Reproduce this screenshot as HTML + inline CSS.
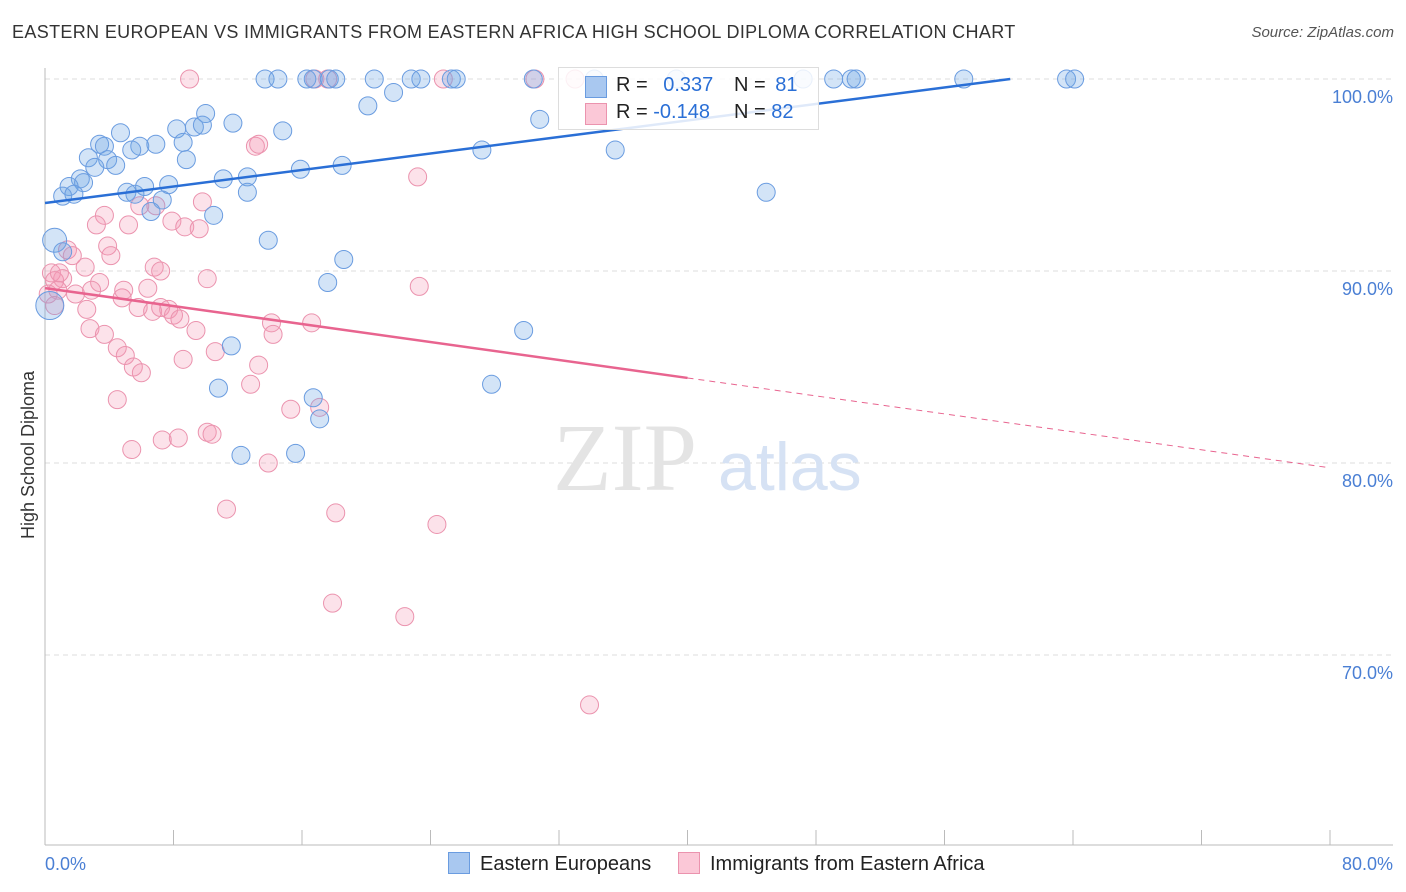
<!DOCTYPE html>
<html><head><meta charset="utf-8"><style>
body{margin:0;background:#fff;font-family:"Liberation Sans",sans-serif}
#c{position:relative;width:1406px;height:892px;overflow:hidden}
.t{position:absolute;white-space:nowrap}
</style></head><body><div id="c">
<div class="t" style="left:12px;top:22px;font-size:18px;color:#333;letter-spacing:0.35px">EASTERN EUROPEAN VS IMMIGRANTS FROM EASTERN AFRICA HIGH SCHOOL DIPLOMA CORRELATION CHART</div>
<div class="t" style="right:12px;top:24px;font-size:15px;color:#555;font-style:italic">Source: ZipAtlas.com</div>
<svg id="s" width="1406" height="892" style="position:absolute;left:0;top:0"></svg>
</div>
<script>
const blueX=[13.7,14.5,16.3,16.7,17.7,18.1,20.5,22.8,23.4,25.3,25.6,30.4,34.2,39.3,47.2,49.1,50.2,50.5,57.2,63.6,64.1,20.1,21.7,10.0,11.7,8.2,9.3,9.8,4.7,3.4,3.7,5.9,6.9,8.6,5.4,2.7,3.9,4.4,3.1,8.8,14.8,30.8,27.2,35.5,18.5,15.9,11.1,12.6,2.2,2.4,1.5,5.1,5.6,6.2,7.7,12.6,1.1,1.8,7.3,6.6,10.5,44.9,0.6,1.1,13.9,18.6,17.6,29.8,11.6,10.8,27.8,16.7,17.1,12.2,15.6,0.3];
const blueY=[100,100,100,100,100,100,100,100,100,100,100,100,100,100,100,100,100,100,100,100,100,98.6,99.3,98.2,97.7,97.4,97.5,97.6,97.2,96.6,96.5,96.5,96.6,96.7,96.3,95.9,95.8,95.5,95.4,95.8,97.3,97.9,96.3,96.3,95.5,95.3,94.8,94.9,94.8,94.6,94.4,94.1,94.0,94.4,94.5,94.1,93.9,94.0,93.7,93.1,92.9,94.1,91.6,91.0,91.6,90.6,89.4,86.9,86.1,83.9,84.1,83.4,82.3,80.4,80.5,88.2];
const blueR=[9,9,9,9,9,9,9,9,9,9,9,9,9,9,9,9,9,9,9,9,9,9,9,9,9,9,9,9,9,9,9,9,9,9,9,9,9,9,9,9,9,9,9,9,9,9,9,9,9,9,9,9,9,9,9,9,9,9,9,9,9,9,12,9,9,9,9,9,9,9,9,9,9,9,9,14];
const pinkX=[9.0,16.8,17.6,24.8,30.5,33.0,13.1,13.3,23.2,3.7,9.8,6.9,5.9,5.2,3.2,7.9,8.7,9.6,3.9,1.4,1.7,4.1,2.5,6.8,7.2,10.1,3.4,1.1,0.4,0.6,0.8,1.9,2.9,4.9,6.4,23.3,2.6,4.8,5.8,6.7,7.2,7.7,8.0,8.4,14.1,16.6,9.4,2.8,3.7,4.5,5.0,5.5,6.0,8.6,10.6,13.3,14.2,12.8,4.5,15.3,17.1,5.4,7.3,8.3,10.1,10.4,13.9,11.3,18.1,24.4,17.9,22.4,33.9,0.2,0.9,0.6];
const pinkY=[100,100,100,100,100,100,96.5,96.6,94.9,92.9,93.6,93.4,93.4,92.4,92.4,92.6,92.3,92.2,91.3,91.1,90.8,90.8,90.2,90.2,90.0,89.6,89.4,89.6,89.9,89.5,89.0,88.8,89.0,89.0,89.1,89.2,88.0,88.6,88.1,87.9,88.1,88.0,87.7,87.5,87.3,87.3,86.9,87.0,86.7,86.0,85.6,85.0,84.7,85.4,85.8,85.1,86.7,84.1,83.3,82.8,82.9,80.7,81.2,81.3,81.6,81.5,80.0,77.6,77.4,76.8,72.7,72.0,67.4,88.8,89.9,88.2];
const yTicks=[100,90,80,70];
const xTickLabels=["0.0%","80.0%"];
const blueTrend=[93.54,0.1075], pinkTrend=[89.11,-0.117];
const X=v=>45+v*1285/80, Y=v=>79+(100-v)*19.2;
const s=document.getElementById('s');const NS='http://www.w3.org/2000/svg';
function mk(t,a,p){const e=document.createElementNS(NS,t);for(const k in a)e.setAttribute(k,a[k]);(p||s).appendChild(e);return e;}
yTicks.forEach(v=>{
 const g=mk('line',{x1:45,x2:1393,y1:Y(v),y2:Y(v),stroke:'#ddd','stroke-dasharray':'5,4'});
 
 
 const t=mk('text',{x:1393,y:Y(v)+24,'text-anchor':'end','font-size':18,fill:'#4a7fd4','font-family':'Liberation Sans'});t.textContent=v.toFixed(1)+'%';
 
 
});
mk('line',{x1:45,x2:45,y1:68,y2:845,stroke:'#bbb'});
mk('line',{x1:45,x2:1393,y1:845,y2:845,stroke:'#bbb'});
for(let i=1;i<=10;i++){mk('line',{x1:X(i*8),x2:X(i*8),y1:830,y2:845,stroke:'#bbb'});}
let t=mk('text',{x:45,y:870,'font-size':18,fill:'#4a7fd4','font-family':'Liberation Sans'});t.textContent=xTickLabels[0];


t=mk('text',{x:1393,y:870,'text-anchor':'end','font-size':18,fill:'#4a7fd4','font-family':'Liberation Sans'});t.textContent=xTickLabels[1];


t=mk('text',{x:34,y:455,transform:'rotate(-90 34 455)','text-anchor':'middle','font-size':18,fill:'#333','font-family':'Liberation Sans'});t.textContent='High School Diploma';


t=mk('text',{x:553,y:490,'font-size':96,fill:'#e4e4e4','font-family':'Liberation Serif'});t.textContent='ZIP';


t=mk('text',{x:718,y:490,'font-size':68,fill:'#d6e2f4','font-family':'Liberation Sans'});t.textContent='atlas';


pinkX.forEach((x,i)=>{const c=mk('circle',{cx:X(x),cy:Y(pinkY[i]),r:9,fill:'rgba(244,150,180,0.28)',stroke:'#eb93ae','stroke-width':1});
 
 });
blueX.forEach((x,i)=>{const c=mk('circle',{cx:X(x),cy:Y(blueY[i]),r:blueR[i],fill:'rgba(110,165,230,0.3)',stroke:'#6a9ce0','stroke-width':1});
 
 });
const xe=(100-blueTrend[0])/blueTrend[1];
let l=mk('line',{x1:X(0),y1:Y(blueTrend[0]),x2:X(xe),y2:Y(100),stroke:'#2a6fd6','stroke-width':2.5});


l=mk('line',{x1:X(0),y1:Y(pinkTrend[0]),x2:X(40),y2:Y(pinkTrend[0]+40*pinkTrend[1]),stroke:'#e8648f','stroke-width':2.5});


l=mk('line',{x1:X(40),y1:Y(pinkTrend[0]+40*pinkTrend[1]),x2:X(80),y2:Y(pinkTrend[0]+80*pinkTrend[1]),stroke:'#e8648f','stroke-width':1,'stroke-dasharray':'6,5'});


</script>
<div class="t" style="left:558px;top:67px;width:259px;height:61px;border:1px solid #ddd;background:rgba(255,255,255,0.85);font-size:20px;color:#222">
 <div style="position:absolute;left:26px;top:8px;width:20px;height:20px;background:#a9c8f0;border:1px solid #6a9ce0"></div>
 <div style="position:absolute;left:26px;top:35px;width:20px;height:20px;background:#fbc8d7;border:1px solid #eb93ae"></div>
 <div style="position:absolute;left:57px;top:6px">R = <span style="color:#2a6fd6;margin-left:10px">0.337</span></div>
 <div style="position:absolute;left:175px;top:6px">N = <span style="color:#2a6fd6;margin-left:4px">81</span></div>
 <div style="position:absolute;left:57px;top:33px">R = <span style="color:#2a6fd6">-0.148</span></div>
 <div style="position:absolute;left:175px;top:33px">N = <span style="color:#2a6fd6">82</span></div>
</div>
<div class="t" style="left:448px;top:852px;font-size:20px;color:#222"><span style="display:inline-block;width:20px;height:20px;background:#a9c8f0;border:1px solid #6a9ce0;vertical-align:-4px;margin-right:10px"></span>Eastern Europeans</div>
<div class="t" style="left:678px;top:852px;font-size:20px;color:#222"><span style="display:inline-block;width:20px;height:20px;background:#fbc8d7;border:1px solid #eb93ae;vertical-align:-4px;margin-right:10px"></span>Immigrants from Eastern Africa</div>
</body></html>
